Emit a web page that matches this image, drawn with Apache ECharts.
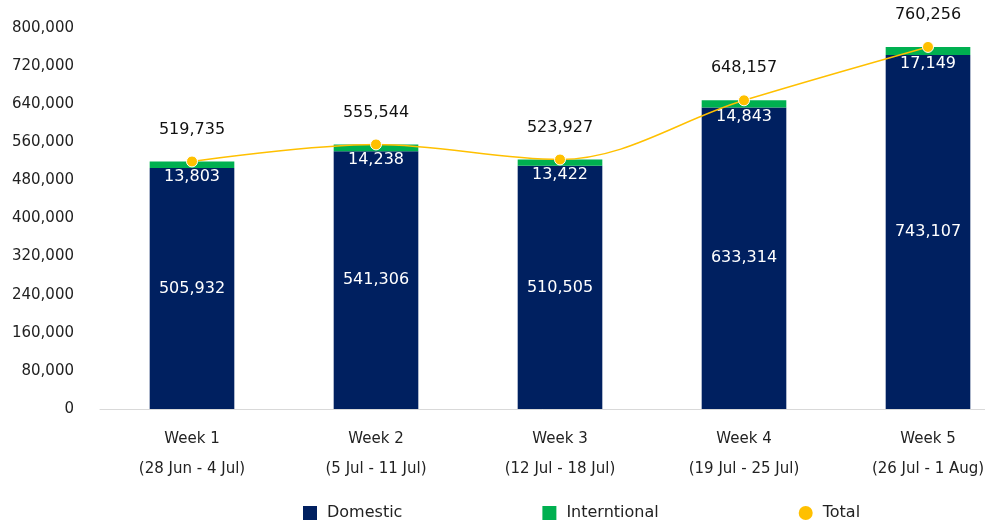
<!DOCTYPE html>
<html>
<head>
<meta charset="utf-8">
<script src="https://cdn.jsdelivr.net/npm/echarts@6/dist/echarts.min.js"></script>
<style>
  html, body { margin: 0; padding: 0; background: #fff; }
  #chart { width: 985px; height: 520px; }
</style>
</head>
<body>
<div id="chart"></div>
<script>
// chart data
const weeks = ["Week 1\n(28 Jun - 4 Jul)", "Week 2\n(5 Jul - 11 Jul)", "Week 3\n(12 Jul - 18 Jul)", "Week 4\n(19 Jul - 25 Jul)", "Week 5\n(26 Jul - 1 Aug)"];
const domestic = [505932, 541306, 510505, 633314, 743107];
const international = [13803, 14238, 13422, 14843, 17149];
const total = [519735, 555544, 523927, 648157, 760256];

const fontFamily = "'DejaVu Sans', 'Noto Sans', sans-serif";
const fmt = v => v.toLocaleString("en-US");

let chart = echarts.init(document.getElementById("chart"));
chart.setOption({
    animation: false,
    textStyle: { fontFamily: fontFamily },
    grid: {
        left: 100,
        width: 920,
        top: 28,
        bottom: 111,
        containLabel: false,
        outerBoundsMode: "none"
    },
    legend: {
        top: 500,
        left: 298,
        itemGap: 140,
        itemWidth: 14,
        itemHeight: 14,
        textStyle: { fontSize: 16, color: "#222", fontFamily: fontFamily, padding: [0, 0, 0, 5] },
        data: [
            { name: "Domestic", icon: "rect" },
            { name: "Interntional", icon: "rect" },
            { name: "Total", icon: "circle", itemStyle: { borderWidth: 0 } }
        ]
    },
    xAxis: {
        type: "category",
        data: weeks,
        axisLine: { lineStyle: { color: "#d9d9d9" } },
        axisTick: { show: false },
        axisLabel: {
            color: "#222",
            fontSize: 15,
            lineHeight: 30,
            margin: 15
        }
    },
    yAxis: {
        type: "value",
        min: 0,
        max: 800000,
        interval: 80000,
        splitLine: { show: false },
        axisLine: { show: false },
        axisTick: { show: false },
        axisLabel: {
            color: "#222",
            fontSize: 15,
            margin: 26,
            formatter: v => fmt(v)
        }
    },
    series: [
        {
            name: "Domestic",
            type: "bar",
            stack: "pax",
            barWidth: "46%",
            data: domestic,
            itemStyle: { color: "#002060" },
            label: {
                show: true,
                position: "inside",
                color: "#fff",
                fontSize: 16,
                formatter: p => fmt(p.value)
            }
        },
        {
            name: "Interntional",
            type: "bar",
            stack: "pax",
            data: international,
            itemStyle: { color: "#00B050" },
            label: {
                show: true,
                position: "bottom",
                distance: 1,
                color: "#fff",
                fontSize: 16,
                formatter: p => fmt(p.value)
            }
        },
        {
            name: "Total",
            type: "line",
            smooth: 0.35,
            data: total,
            symbol: "circle",
            symbolSize: 11,
            z: 5,
            itemStyle: { color: "#FFC000", borderColor: "#fff", borderWidth: 1 },
            lineStyle: { color: "#FFC000", width: 1.5 },
            label: {
                show: true,
                position: "top",
                distance: 18,
                color: "#111",
                fontSize: 16,
                formatter: p => fmt(p.value)
            }
        }
    ]
});
</script>
</body>
</html>
